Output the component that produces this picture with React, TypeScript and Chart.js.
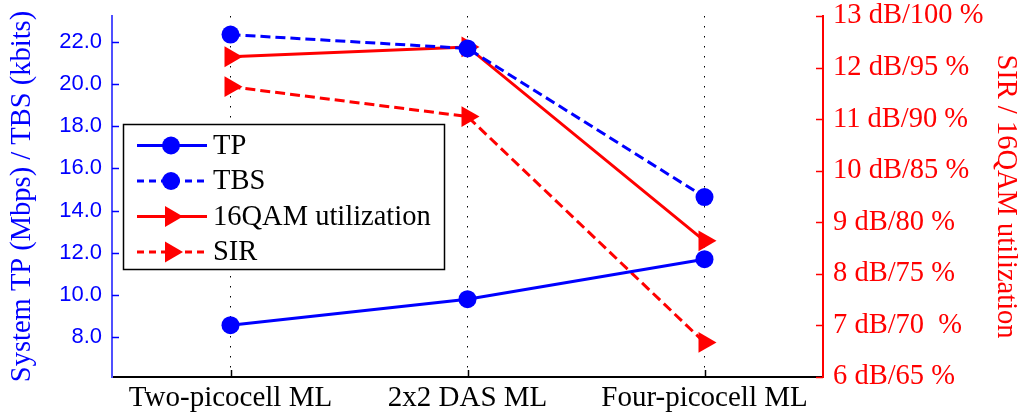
import React, { useEffect, useRef } from 'react';
import { Chart, registerables } from 'chart.js';

Chart.register(...registerables);

const categories = ['Two-picocell ML', '2x2 DAS ML', 'Four-picocell ML'];
const tpValues = [8.56, 9.79, 11.69];
const tbsValues = [22.35, 21.69, 14.64];
const qamValues = [12.21, 12.4, 8.64];
const sirValues = [11.63, 11.05, 6.67];
const leftTicks = [8, 10, 12, 14, 16, 18, 20, 22];
const rightTicks = [6, 7, 8, 9, 10, 11, 12, 13];
const rightTickLabels = [
  '6 dB/65 %',
  '7 dB/70  %',
  '8 dB/75 %',
  '9 dB/80 %',
  '10 dB/85 %',
  '11 dB/90 %',
  '12 dB/95 %',
  '13 dB/100 %',
];
const seriesLabels = ['TP', 'TBS', '16QAM utilization', 'SIR'];
const leftTitle = 'System TP (Mbps) / TBS (kbits)';
const rightTitle = 'SIR / 16QAM utilization';

const BLUE = '#0000ff';
const RED = '#ff0000';
const SERIF = '"Liberation Serif", "Times New Roman", serif';
const SANS = '"Liberation Sans", Arial, sans-serif';

function drawMarker(ctx: CanvasRenderingContext2D, style: string, cx: number, cy: number, r: number, color: string) {
  ctx.save();
  ctx.setLineDash([]);
  ctx.fillStyle = color;
  ctx.beginPath();
  if (style === 'circle') {
    ctx.arc(cx, cy, r, 0, Math.PI * 2);
  } else {
    ctx.moveTo(cx + r, cy);
    ctx.lineTo(cx - r / 2, cy - (r * Math.sqrt(3)) / 2);
    ctx.lineTo(cx - r / 2, cy + (r * Math.sqrt(3)) / 2);
    ctx.closePath();
  }
  ctx.fill();
  ctx.restore();
}

const insideTicksPlugin = {
  id: 'insideTicks',
  afterDatasetsDraw(chart: any) {
    const { ctx, chartArea, scales } = chart;
    ctx.save();
    ctx.setLineDash([]);
    ctx.strokeStyle = BLUE;
    ctx.lineWidth = 1.5;
    scales.y.ticks.forEach((t: any) => {
      const py = Math.round(scales.y.getPixelForValue(t.value)) + 0.5;
      ctx.beginPath();
      ctx.moveTo(chartArea.left, py);
      ctx.lineTo(chartArea.left + 7, py);
      ctx.stroke();
    });
    ctx.strokeStyle = RED;
    scales.y2.ticks.forEach((t: any) => {
      const py = Math.round(scales.y2.getPixelForValue(t.value)) + 0.5;
      ctx.beginPath();
      ctx.moveTo(chartArea.right, py);
      ctx.lineTo(chartArea.right - 7, py);
      ctx.stroke();
    });
    ctx.strokeStyle = '#000';
    scales.x.ticks.forEach((t: any, i: number) => {
      const px = Math.round(scales.x.getPixelForTick(i)) + 0.5;
      ctx.beginPath();
      ctx.moveTo(px, chartArea.bottom);
      ctx.lineTo(px, chartArea.bottom - 7);
      ctx.stroke();
    });
    ctx.restore();
  },
};

const legendPlugin = {
  id: 'boxLegend',
  afterDraw(chart: any) {
    const ctx: CanvasRenderingContext2D = chart.ctx;
    const bx = 123.5;
    const by = 124.5;
    const bw = 321;
    const bh = 145;
    ctx.save();
    ctx.fillStyle = '#ffffff';
    ctx.fillRect(bx, by, bw, bh);
    ctx.strokeStyle = '#000';
    ctx.lineWidth = 1.5;
    ctx.setLineDash([]);
    ctx.strokeRect(bx, by, bw, bh);
    chart.data.datasets.forEach((ds: any, i: number) => {
      const cy = 145.5 + i * 35.5;
      ctx.save();
      ctx.strokeStyle = ds.borderColor;
      ctx.lineWidth = ds.borderWidth;
      ctx.setLineDash(ds.borderDash ? [7, 5] : []);
      ctx.beginPath();
      ctx.moveTo(137, cy);
      ctx.lineTo(207, cy);
      ctx.stroke();
      ctx.restore();
      drawMarker(ctx, ds.pointStyle, 171, cy, ds.pointRadius, ds.pointBackgroundColor);
      ctx.fillStyle = '#000';
      ctx.font = `28.5px ${SERIF}`;
      ctx.textBaseline = 'middle';
      ctx.textAlign = 'left';
      ctx.fillText(ds.label, 213, cy + 1);
    });
    ctx.restore();
  },
};

export default function App() {
  const canvasRef = useRef<HTMLCanvasElement | null>(null);

  useEffect(() => {
    document.body.style.margin = '0';
    const canvas = canvasRef.current;
    if (!canvas) return;
    const chart = new Chart(canvas, {
      type: 'line',
      data: {
        labels: categories,
        datasets: [
          {
            label: seriesLabels[0],
            data: tpValues,
            yAxisID: 'y',
            borderColor: BLUE,
            backgroundColor: BLUE,
            pointBackgroundColor: BLUE,
            pointBorderColor: BLUE,
            borderWidth: 3,
            pointStyle: 'circle',
            pointRadius: 9,
            pointBorderWidth: 0,
          },
          {
            label: seriesLabels[1],
            data: tbsValues,
            yAxisID: 'y',
            borderColor: BLUE,
            backgroundColor: BLUE,
            pointBackgroundColor: BLUE,
            pointBorderColor: BLUE,
            borderWidth: 3,
            borderDash: [10, 5],
            pointStyle: 'circle',
            pointRadius: 9,
            pointBorderWidth: 0,
          },
          {
            label: seriesLabels[2],
            data: qamValues,
            yAxisID: 'y2',
            borderColor: RED,
            backgroundColor: RED,
            pointBackgroundColor: RED,
            pointBorderColor: RED,
            borderWidth: 3,
            pointStyle: 'triangle',
            pointRotation: 90,
            pointRadius: 12,
            pointBorderWidth: 0,
          },
          {
            label: seriesLabels[3],
            data: sirValues,
            yAxisID: 'y2',
            borderColor: RED,
            backgroundColor: RED,
            pointBackgroundColor: RED,
            pointBorderColor: RED,
            borderWidth: 3,
            borderDash: [10, 5],
            pointStyle: 'triangle',
            pointRotation: 90,
            pointRadius: 12,
            pointBorderWidth: 0,
          },
        ] as any,
      },
      options: {
        responsive: false,
        animation: false,
        layout: { padding: { top: 16, left: 0, right: 0, bottom: 0 } },
        plugins: {
          legend: { display: false },
          tooltip: { enabled: false },
        },
        scales: {
          x: {
            type: 'category',
            offset: true,
            grid: {
              display: true,
              drawOnChartArea: true,
              drawTicks: false,
              color: '#000',
              lineWidth: 1,
            },
            border: { display: true, color: '#000', width: 2, dash: [1.5, 8.5] },
            ticks: {
              color: '#000',
              font: { family: SERIF, size: 29 },
              padding: 4,
              maxRotation: 0,
              autoSkip: false,
            },
            afterFit: (s: any) => {
              s.height = 41;
              s.paddingLeft = 0;
              s.paddingRight = 0;
            },
          },
          y: {
            type: 'linear',
            position: 'left',
            min: 6.1,
            max: 23.23,
            afterBuildTicks: (s: any) => {
              s.ticks = leftTicks.map((v) => ({ value: v }));
            },
            grid: { display: false, drawTicks: false },
            border: { display: true, color: '#5050ff', width: 2 },
            ticks: {
              color: BLUE,
              font: { family: SANS, size: 22 },
              padding: 10,
              callback: (v: any) => Number(v).toFixed(1),
            },
            title: {
              display: true,
              text: leftTitle,
              color: BLUE,
              font: { family: SERIF, size: 28.5 },
              padding: { top: 5, bottom: 0 },
            },
            afterFit: (s: any) => {
              s.width = 112;
              s.paddingTop = 0;
              s.paddingBottom = 0;
            },
          },
          y2: {
            type: 'linear',
            position: 'right',
            min: 6,
            max: 13,
            afterBuildTicks: (s: any) => {
              s.ticks = rightTicks.map((v) => ({ value: v }));
            },
            grid: { display: false, drawTicks: false },
            border: { display: true, color: RED, width: 2 },
            ticks: {
              color: RED,
              font: { family: SERIF, size: 28.5, lineHeight: 1 },
              padding: 10,
              callback: (v: any) => {
                const idx = rightTicks.indexOf(Number(v));
                return idx >= 0 ? rightTickLabels[idx] : '';
              },
            },
            title: {
              display: true,
              text: rightTitle,
              color: RED,
              font: { family: SERIF, size: 28.5 },
              padding: { top: 5, bottom: 0 },
            },
            afterFit: (s: any) => {
              s.width = 205;
              s.paddingTop = 0;
              s.paddingBottom = 0;
            },
          },
        },
      } as any,
      plugins: [insideTicksPlugin, legendPlugin],
    });
    return () => {
      chart.destroy();
    };
  }, []);

  return (
    <div style={{ position: 'absolute', left: 0, top: 0, width: 1028, height: 418, background: '#fff' }}>
      <canvas ref={canvasRef} width={1028} height={418} style={{ display: 'block' }} />
    </div>
  );
}
